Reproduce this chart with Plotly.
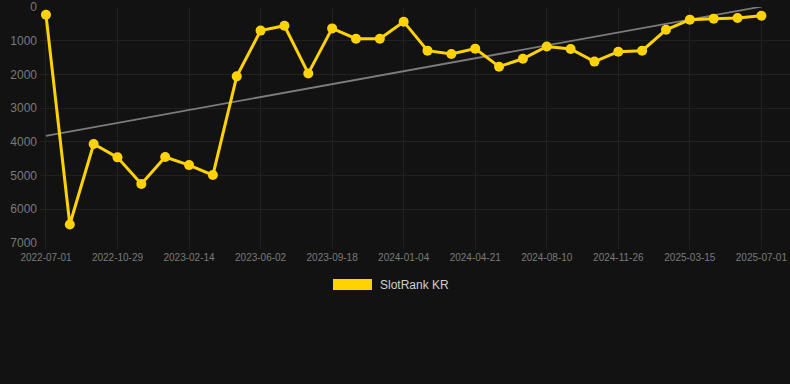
import plotly.graph_objects as go

# --- data ---
point_index = list(range(31))
rank_values = [230, 6450, 4065, 4460, 5250, 4450, 4690, 4985, 2057, 700,
               555, 1970, 635, 940, 940, 435, 1295, 1395, 1235, 1770,
               1535, 1170, 1245, 1620, 1325, 1295, 675, 375, 345, 325, 260]
trend_x = [0, 30]
trend_y = [3820, -10]
tick_positions = [0, 3, 6, 9, 12, 15, 18, 21, 24, 27, 30]
tick_labels = ["2022-07-01", "2022-10-29", "2023-02-14", "2023-06-02", "2023-09-18",
               "2024-01-04", "2024-04-21", "2024-08-10", "2024-11-26", "2025-03-15",
               "2025-07-01"]
y_ticks = [0, 1000, 2000, 3000, 4000, 5000, 6000, 7000]
series_name = "SlotRank KR"

GOLD = "#FFD200"
BG = "#121212"
GRID = "#212121"

fig = go.Figure()
fig.add_trace(go.Scatter(x=trend_x, y=trend_y, mode="lines",
                         line=dict(color="#7c7c7c", width=1.8),
                         showlegend=False, hoverinfo="skip"))
fig.add_trace(go.Scatter(x=point_index, y=rank_values, mode="lines+markers",
                         name=series_name,
                         line=dict(color=GOLD, width=3),
                         marker=dict(color=GOLD, size=10),
                         showlegend=False))

fig.update_layout(
    width=790, height=384,
    paper_bgcolor=BG, plot_bgcolor=BG,
    margin=dict(l=40, r=0, t=7, b=141),
    font=dict(family="Liberation Sans, Arial, sans-serif", color="#808080"),
    showlegend=False,
    xaxis=dict(range=[-0.25, 31.2], tickvals=tick_positions, ticktext=tick_labels,
               showgrid=True, gridcolor=GRID, gridwidth=1, zeroline=False,
               showline=False, ticks="outside", ticklen=5, tickcolor=GRID,
               tickfont=dict(size=10, color="#7a7a7a")),
    yaxis=dict(range=[7000, 0], tickvals=y_ticks,
               showgrid=True, gridcolor=GRID, gridwidth=1, zeroline=False,
               showline=False, ticks="", ticklabelstandoff=2,
               tickfont=dict(size=12, color="#7a7a7a")),
    shapes=[dict(type="rect", xref="paper", yref="paper",
                 x0=(333 - 40) / 750, x1=(372 - 40) / 750,
                 y0=(384 - 141 - 290) / 236, y1=(384 - 141 - 279) / 236,
                 fillcolor=GOLD, line=dict(width=0))],
    annotations=[dict(text=series_name, xref="paper", yref="paper",
                      x=(378 - 40) / 750, y=(384 - 141 - 285) / 236,
                      xanchor="left", yanchor="middle", showarrow=False,
                      font=dict(size=12, color="#d0d0d0"))],
)

fig.write_html("out.html", config={"displayModeBar": False},
               post_script="document.body.style.margin='0';"
                           "document.body.style.background='#121212';")
